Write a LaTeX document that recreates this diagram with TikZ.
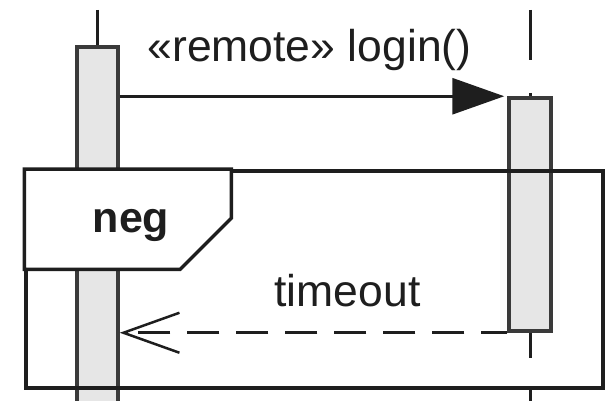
\documentclass[tikz,border=0pt]{standalone}
\usepackage{fontspec}
\setmainfont{Liberation Sans}
\usetikzlibrary{arrows.meta}
\definecolor{actfill}{HTML}{E6E6E6}
\definecolor{actline}{HTML}{3A3A3A}
\definecolor{ink}{HTML}{1E1E1E}
\begin{document}
\begin{tikzpicture}[x=1pt,y=-1pt,
  act/.style={draw=actline, fill=actfill, line width=3.5pt, rectangle, inner sep=0pt},
  life/.style={draw=ink, line width=3pt},
  msg/.style={draw=ink, line width=3pt, -{Triangle[length=52pt,width=36pt]}},
  ret/.style={draw=ink, line width=3pt, dash pattern=on 32pt off 17pt, dash phase=6pt,
    -{Straight Barb[length=56pt,width=40pt,line width=2.5pt]}},
  frm/.style={draw=ink, line width=3.5pt},
  lbl/.style={font=\fontsize{44.5}{50}\selectfont, text=ink, inner sep=0pt}]
\clip (0,0) rectangle (608,401);
\fill[white] (0,0) rectangle (608,401);
% activations
\node[act, minimum width=41pt, minimum height=380pt] (actA) at (97.5,237) {};
\node[act, minimum width=42pt, minimum height=233pt] (actB) at (530,214.5) {};
% lifelines
\coordinate (topA) at (97.5,10);
\coordinate (topB1) at (530,10);
\coordinate (topB2) at (530,60);
\coordinate (tickB) at (530,93);
\coordinate (lowB1) at (530,358);
\coordinate (lowB2) at (530,388);
\coordinate (lowB3) at (530,410);
\draw[life] (topA) -- (actA.north);
\draw[life] (topB1) -- (topB2);
\draw[life] (tickB) -- (actB.north);
\draw[life] (actB.south) -- (lowB1);
\draw[life] (lowB2) -- (lowB3);
% frame
\node[frm, rectangle, minimum width=577pt, minimum height=217pt, inner sep=0pt] (frame) at (314.5,279.5) {};
\filldraw[frm, fill=white] (frame.north west) -- ++(207,0) -- ++(0,49) -- ++(-51,51) -- ++(-156,0) -- cycle;
% messages
\draw[msg] (actA.east |- actB.north west) -- ([xshift=-3pt]actB.north west);
\draw[ret] (actB.south west) -- (actA.east |- actB.south west);
% labels
\node[lbl, anchor=base] (lblLogin) at (309.5,62) {«remote» login()};
\node[lbl, anchor=base, font=\fontsize{43}{50}\selectfont\bfseries] (lblNeg) at (131,232) {neg};
\node[lbl, anchor=base] (lblTimeout) at (347.5,306) {timeout};
\end{tikzpicture}
\end{document}
